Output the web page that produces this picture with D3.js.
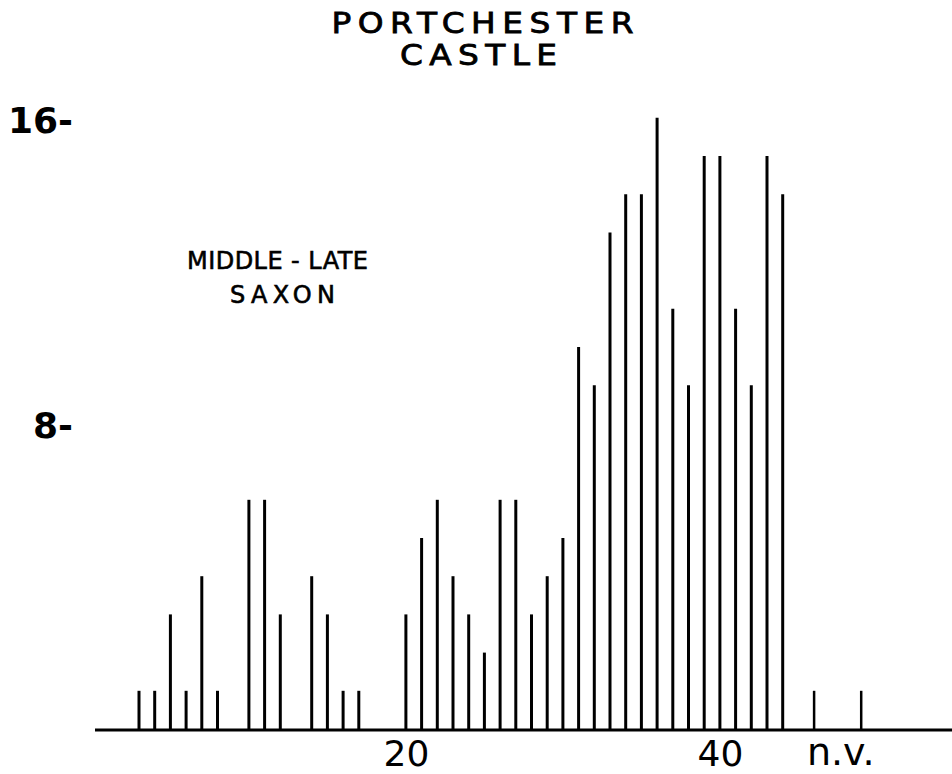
<!DOCTYPE html>
<html>
<head>
<meta charset="utf-8">
<script src="https://cdn.jsdelivr.net/npm/d3@7"></script>
<style>
  html, body { margin: 0; padding: 0; background: #fff; }
  svg { display: block; }
</style>
</head>
<body>
<svg id="chart" width="952" height="774"></svg>
<script>
// ---- data ----
const titleLines = ["PORTCHESTER", "CASTLE"];
const noteLines = ["MIDDLE - LATE", "SAXON"];
const categories = [3, 4, 5, 6, 7, 8, 10, 11, 12, 14, 15, 16, 17,
  20, 21, 22, 23, 24, 25, 26, 27, 28, 29, 30, 31, 32, 33, 34, 35, 36, 37,
  38, 39, 40, 41, 42, 43, 44];
const counts = [1, 1, 3, 1, 4, 1, 6, 6, 3, 4, 3, 1, 1,
  3, 5, 6, 4, 3, 2, 6, 6, 3, 4, 5, 10, 9, 13, 14, 14, 16, 11,
  9, 15, 15, 11, 9, 15, 14];
const nvSlots = [46, 49];
const nvCounts = [1, 1];
const nvLabel = "n.v.";
const nvLabelSlot = 47.7;
const xTickValues = [20, 40];
const yTickValues = [8, 16];

// ---- layout ----
const svg = d3.select("#chart");
const x = d3.scaleLinear().domain([3, 44]).range([139, 782.7]);
const y = d3.scaleLinear().domain([0, 16]).range([729, 117.8]);
const SANS = "DejaVu Sans, Verdana, sans-serif";

// title (slightly extended letterforms)
const titlePos = [[331.5, 33, 302], [400, 65, 157]];
const stretch = 1.17;
svg.append("g").selectAll("text").data(titleLines).join("text")
  .attr("transform", (d, i) => `translate(${titlePos[i][0]},${titlePos[i][1]}) scale(${stretch},1)`)
  .attr("font-family", SANS)
  .attr("font-size", 28)
  .attr("fill", "#000")
  .attr("stroke", "#000").attr("stroke-width", 0.8)
  .attr("textLength", (d, i) => titlePos[i][2] / stretch)
  .attr("lengthAdjust", "spacing")
  .text(d => d);

// period note
const notePos = [[187, 268.5, 181], [230, 303, 105]];
svg.append("g").selectAll("text").data(noteLines).join("text")
  .attr("transform", (d, i) => `translate(${notePos[i][0]},${notePos[i][1]})`)
  .attr("font-family", SANS)
  .attr("font-size", 24)
  .attr("fill", "#000")
  .attr("stroke", "#000").attr("stroke-width", 0.6)
  .attr("textLength", (d, i) => notePos[i][2])
  .attr("lengthAdjust", "spacing")
  .text(d => d);

// bars
const bars = categories.map((c, i) => ({ c, v: counts[i] }));
svg.append("g").selectAll("line").data(bars).join("line")
  .attr("x1", d => x(d.c)).attr("x2", d => x(d.c))
  .attr("y1", y(0)).attr("y2", d => y(d.v))
  .attr("stroke", "#000").attr("stroke-width", 3);

const nvBars = nvSlots.map((c, i) => ({ c, v: nvCounts[i] }));
svg.append("g").selectAll("line").data(nvBars).join("line")
  .attr("x1", d => x(d.c)).attr("x2", d => x(d.c))
  .attr("y1", y(0)).attr("y2", d => y(d.v))
  .attr("stroke", "#000").attr("stroke-width", 2.5);

// baseline
svg.append("line")
  .attr("x1", 95).attr("x2", 952)
  .attr("y1", y(0) + 1).attr("y2", y(0) + 1)
  .attr("stroke", "#000").attr("stroke-width", 3);

// x axis
const xAxis = svg.append("g")
  .attr("transform", `translate(0,${y(0) + 1})`)
  .call(d3.axisBottom(x).tickValues(xTickValues).tickSize(0).tickPadding(10).tickFormat(d3.format("d")));
xAxis.select(".domain").remove();
xAxis.selectAll("text")
  .attr("font-family", SANS)
  .attr("font-size", 36).attr("fill", "#000");

svg.append("text")
  .attr("x", x(nvLabelSlot)).attr("y", 765)
  .attr("text-anchor", "middle")
  .attr("font-family", SANS)
  .attr("font-size", 38)
  .attr("fill", "#000")
  .text(nvLabel);

// y axis
const yAxis = svg.append("g")
  .attr("transform", "translate(73,0)")
  .call(d3.axisLeft(y).tickValues(yTickValues).tickSize(0).tickPadding(0).tickFormat(d => d + "-"));
yAxis.select(".domain").remove();
yAxis.selectAll("text")
  .attr("font-family", SANS)
  .attr("font-size", 36).attr("font-weight", "bold").attr("fill", "#000")
  .attr("dy", "0.4em");
</script>
</body>
</html>
